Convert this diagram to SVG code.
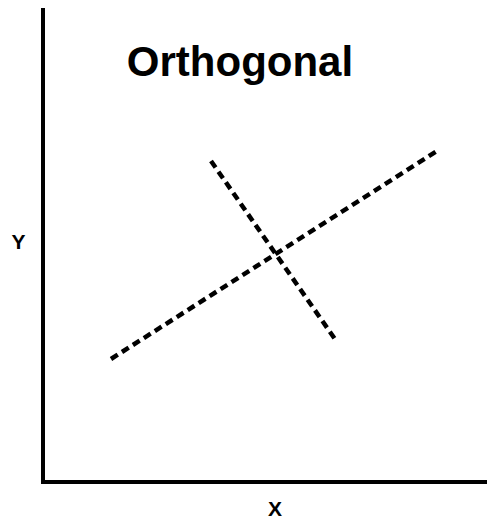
<svg xmlns="http://www.w3.org/2000/svg" width="487" height="520" viewBox="0 0 487 520">
<style>
.axis{stroke:#000;stroke-width:4;fill:none}
.dash{stroke:#000;stroke-width:4.5;stroke-dasharray:8 5;fill:none}
.t{font-family:"Liberation Sans",Arial,sans-serif;font-weight:bold;fill:#000}
</style>
<rect width="487" height="520" fill="#fff"/>
<g id="axes">
<path class="axis" d="M43,8 V482 H487"/>
</g>
<g id="title"><text class="t" x="240" y="76" font-size="42" text-anchor="middle">Orthogonal</text></g>
<g id="ylabel"><text class="t" x="18.5" y="249" font-size="21" text-anchor="middle">Y</text></g>
<g id="xlabel"><text class="t" x="275" y="516" font-size="21" text-anchor="middle">X</text></g>
<g id="connectors">
<line class="dash" x1="111" y1="359" x2="437" y2="151"/>
<line class="dash" x1="211" y1="161" x2="337" y2="342"/>
</g>
</svg>
